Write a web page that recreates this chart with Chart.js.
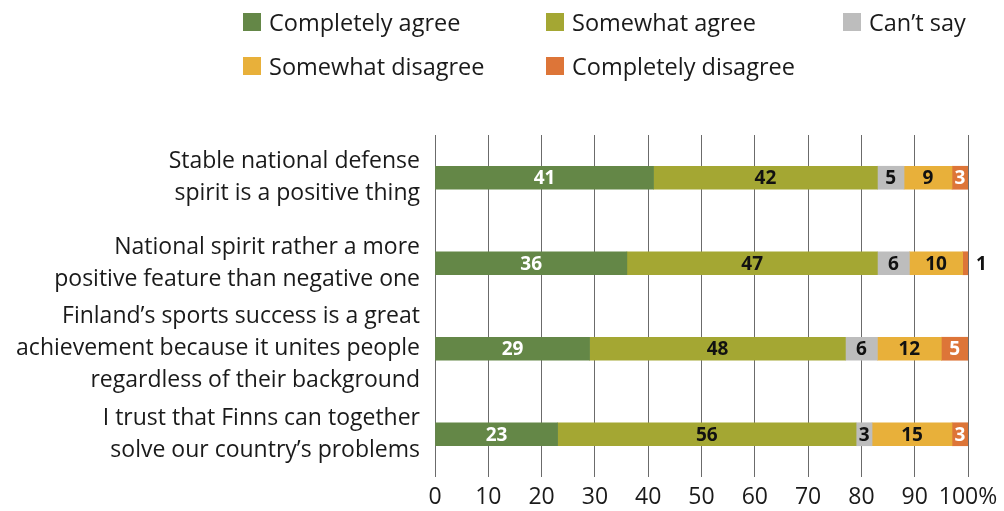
<!DOCTYPE html>
<html>
<head>
<meta charset="utf-8">
<script src="https://cdn.jsdelivr.net/npm/chart.js@4"></script>
<style>
  body { margin: 0; background: #fff; }
  #wrap { position: relative; width: 1004px; height: 511px; }
  #legend {
    position: absolute; left: 243px; top: 6px;
    display: grid; grid-template-columns: 303px 297px 160px;
    row-gap: 12px;
    font-family: "Open Sans", sans-serif; font-size: 23.5px; color: #1a1a1a;
  }
  .item { display: flex; align-items: center; height: 32px; white-space: nowrap; }
  .box { width: 18px; height: 18px; margin-right: 8px; flex: none; }
  canvas { display: block; }
</style>
</head>
<body>
<div id="wrap">
  <div id="legend"></div>
  <canvas id="chart" width="1004" height="511"></canvas>
</div>
<script>
"use strict";

let statements = [
    ['Stable national defense', 'spirit is a positive thing'],
    ['National spirit rather a more', 'positive feature than negative one'],
    ['Finland\u2019s sports success is a great', 'achievement because it unites people', 'regardless of their background'],
    ['I trust that Finns can together', 'solve our country\u2019s problems']
];
let seriesNames = ['Completely agree', 'Somewhat agree', 'Can\u2019t say', 'Somewhat disagree', 'Completely disagree'];
let completelyAgree = [41, 36, 29, 23];
let somewhatAgree = [42, 47, 48, 56];
let cantSay = [5, 6, 6, 3];
let somewhatDisagree = [9, 10, 12, 15];
let completelyDisagree = [3, 1, 5, 3];
let xTicks = [0, 10, 20, 30, 40, 50, 60, 70, 80, 90, 100];

let colors = ['#648747', '#a4a733', '#bdbdbd', '#e8b03a', '#dd7538'];
let labelColors = ['#ffffff', '#111111', '#111111', '#111111', '#ffffff'];
let allSeries = [completelyAgree, somewhatAgree, cantSay, somewhatDisagree, completelyDisagree];

let datasets = [];
for (let i = 0; i < allSeries.length; i++) {
    datasets.push({
        label: seriesNames[i],
        data: allSeries[i],
        backgroundColor: colors[i],
        borderWidth: 0,
        barThickness: 23
    });
}

// legend in html, 3 columns like the original
let legend = document.getElementById('legend');
for (let i = 0; i < seriesNames.length; i++) {
    let item = document.createElement('div');
    item.className = 'item';
    let box = document.createElement('span');
    box.className = 'box';
    box.style.background = colors[i];
    item.append(box);
    item.append(document.createTextNode(seriesNames[i]));
    legend.append(item);
}

// values written on the bars
const barValues = {
    id: 'barValues',
    afterDatasetsDraw(chart) {
        const ctx = chart.ctx;
        ctx.save();
        ctx.font = 'bold 19px "Open Sans", sans-serif';
        ctx.textBaseline = 'middle';
        chart.data.datasets.forEach(function (ds, i) {
            chart.getDatasetMeta(i).data.forEach(function (bar, j) {
                let v = ds.data[j];
                let w = Math.abs(bar.x - bar.base);
                if (w < 12) {
                    // too thin, put the number next to the bar
                    ctx.fillStyle = '#111111';
                    ctx.textAlign = 'left';
                    ctx.fillText(v, bar.x + 8, bar.y + 1);
                } else {
                    ctx.fillStyle = labelColors[i];
                    ctx.textAlign = 'center';
                    ctx.fillText(v, (bar.x + bar.base) / 2, bar.y + 1);
                }
            });
        });
        ctx.restore();
    }
};

const ctx = document.getElementById('chart').getContext('2d');
const myChart = new Chart(ctx, {
    type: 'bar',
    data: {
        labels: statements,
        datasets: datasets
    },
    plugins: [barValues],
    options: {
        indexAxis: 'y',
        responsive: false,
        animation: false,
        layout: { padding: { top: 135, right: 36, bottom: 0, left: 0 } },
        plugins: {
            legend: { display: false },
            tooltip: { enabled: false }
        },
        scales: {
            x: {
                stacked: true,
                min: 0,
                max: 100,
                afterBuildTicks(axis) {
                    axis.ticks = xTicks.map(function (v) { return { value: v }; });
                },
                grid: { color: '#6b6b6b', lineWidth: 1, drawTicks: false },
                border: { display: false },
                ticks: {
                    autoSkip: false,
                    padding: 7,
                    color: '#1a1a1a',
                    font: { family: 'Open Sans', size: 23 },
                    maxRotation: 0,
                    callback: function (v) { return v === 100 ? '100%' : v; }
                },
                afterFit(axis) {
                    axis.height = 34;
                    axis.paddingLeft = 0;
                    axis.paddingRight = 0;
                }
            },
            y: {
                stacked: true,
                grid: { display: false, drawTicks: false },
                border: { display: false },
                ticks: {
                    autoSkip: false,
                    padding: 15,
                    color: '#1a1a1a',
                    font: { family: 'Open Sans', size: 23, lineHeight: 1.39 }
                },
                afterFit(axis) {
                    axis.width = 435;
                    axis.paddingTop = 0;
                    axis.paddingBottom = 0;
                }
            }
        }
    }
});
</script>
</body>
</html>
